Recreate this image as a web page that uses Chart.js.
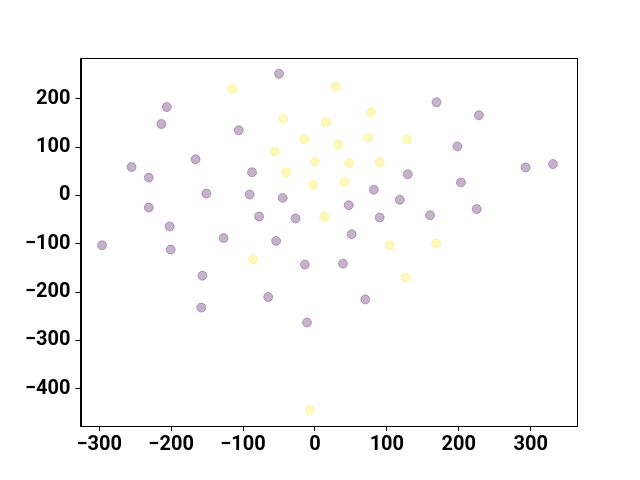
<!DOCTYPE html>
<html>
<head>
<meta charset="utf-8">
<script src="https://cdn.jsdelivr.net/npm/chart.js@4.4.0/dist/chart.umd.min.js"></script>
<style>
html,body{margin:0;padding:0;background:#fff;}
#wrap{width:640px;height:480px;}
</style>
</head>
<body>
<div id="wrap"><canvas id="c" width="640" height="480"></canvas></div>
<script>
// Series values
const purpleX = [-50,-206,-213.5,-106,-166,-255,-231,-87.5,-151,-90.7,-44.8,-231,-77.7,-27,-202,-296,-127,-200.6,-54,-14,-156.5,-65,-158,-11,169,228,198,293,331,129,203,82,47,118,90,160,225,51,39,70];
const purpleY = [252,183,148,135,75,59,37,48,4,2,-5,-25,-43.5,-47.6,-64,-103,-88,-112,-94,-143,-166,-210,-232,-263,193,166,101.5,58,65,44,27,12,-20,-9,-45.5,-41,-28,-80,-141,-215];
const yellowX = [-115,-44,15.5,-14.6,-56,0,-40,-2.6,13,29,78,32,74,128,47.5,90,41,-86,-7,104,168.5,126];
const yellowY = [221,159,152,117,91,70,48,22,-44,225,172,106,120,116,67,69,28,-132,-444,-103,-99,-170];
const xTicks = [-300,-200,-100,0,100,200,300];
const yTicks = [-400,-300,-200,-100,0,100,200];

const toPts = (xs, ys) => xs.map((x, i) => ({x: x, y: ys[i]}));

const frame = {
  id: 'frame',
  afterDraw(chart) {
    const a = chart.chartArea, ctx = chart.ctx;
    ctx.save();
    ctx.strokeStyle = '#000';
    ctx.lineWidth = 1;
    ctx.strokeRect(Math.round(a.left) + 0.5, Math.round(a.top) + 0.5, Math.round(a.right - a.left), Math.round(a.bottom - a.top));
    ctx.restore();
  }
};

const fmt = v => String(v).replace('-', '\u2212');
const tickFont = {family: 'Roboto', weight: 'bold', size: 20};

new Chart(document.getElementById('c'), {
  type: 'scatter',
  data: {
    datasets: [
      {data: toPts(purpleX, purpleY), backgroundColor: 'rgba(68,1,84,0.3)', borderColor: 'rgba(68,1,84,0.3)', borderWidth: 1, pointRadius: 4.5, pointHoverRadius: 4.5},
      {data: toPts(yellowX, yellowY), backgroundColor: 'rgba(253,231,37,0.3)', borderColor: 'rgba(253,231,37,0.3)', borderWidth: 1, pointRadius: 4.5, pointHoverRadius: 4.5}
    ]
  },
  options: {
    responsive: false,
    animation: false,
    events: [],
    layout: {padding: {left: 0, top: 58, right: 64, bottom: 0}},
    plugins: {legend: {display: false}, tooltip: {enabled: false}},
    scales: {
      x: {
        type: 'linear', min: -326, max: 363,
        afterBuildTicks: s => { s.ticks = xTicks.map(v => ({value: v})); },
        afterFit: s => { s.height = 54; },
        grid: {display: true, drawOnChartArea: false, drawTicks: true, tickLength: 5, color: '#000', lineWidth: 1},
        border: {display: true, color: '#000'},
        ticks: {color: '#000', font: tickFont, padding: 2, maxRotation: 0, autoSkip: false, callback: v => fmt(v)}
      },
      y: {
        type: 'linear', min: -477, max: 284.5,
        afterBuildTicks: s => { s.ticks = yTicks.map(v => ({value: v})); },
        afterFit: s => { s.width = 80.5; },
        grid: {display: true, drawOnChartArea: false, drawTicks: true, tickLength: 5, color: '#000', lineWidth: 1},
        border: {display: true, color: '#000'},
        ticks: {color: '#000', font: tickFont, padding: 5, autoSkip: false, callback: v => fmt(v)}
      }
    }
  },
  plugins: [frame]
});
</script>
</body>
</html>
